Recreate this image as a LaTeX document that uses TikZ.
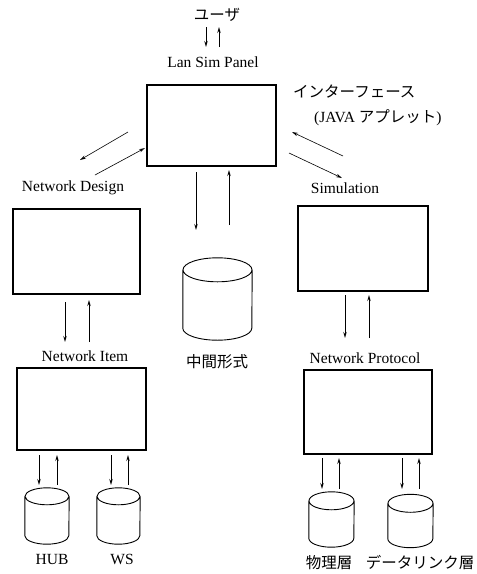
\documentclass[tikz,border=0pt]{standalone}
\usepackage{fontspec}
\setmainfont{Liberation Serif}
\newfontfamily\jp{Noto Sans CJK JP}
\usetikzlibrary{arrows.meta}
\newcommand\mycyl[3]{% name, half width, y radius of the ends
  \draw[cylline] ([yshift=-#3]#1.north) ellipse[x radius=#2,y radius=#3]
    ([yshift=-#3]#1.north west) -- ([yshift=#3]#1.south west)
    arc[start angle=180,end angle=360,x radius=#2,y radius=#3]
    -- ([yshift=-#3]#1.north east);}
\begin{document}
\begin{tikzpicture}[x=1pt,y=-1pt,
  box/.style={draw,line width=1.1pt,minimum width=#1,minimum height=82pt,inner sep=0pt},
  db/.style={inner sep=0pt,minimum width=44pt,minimum height=56pt},
  cylline/.style={line width=0.9pt},
  lbl/.style={font=\fontsize{15.5}{17}\selectfont,inner sep=0pt},
  jlbl/.style={font=\fontsize{15.5}{17}\selectfont\jp,inner sep=0pt},
  arr/.style={line width=0.6pt,-{Stealth[open,length=6pt,width=3.5pt]}}]
\useasboundingbox (0,0) rectangle (477,574);
% boxes
\node[box=129pt,minimum height=81pt] (top) at (211.5,125.5) {};
\node[box=127pt,minimum height=85pt] (nd) at (76.5,251.5) {};
\node[box=130pt,minimum height=85pt] (sim) at (363,248.5) {};
\node[box=129pt,minimum height=82pt] (ni) at (81.5,409) {};
\node[box=128pt,minimum height=84pt] (np) at (368,412) {};
% cylinders
\node[db,minimum width=69pt,minimum height=82pt] (mid) at (217.5,299) {};
\node[db] (hub) at (47,516) {};
\node[db,minimum width=43pt] (ws) at (118.5,516) {};
\node[db,minimum width=45pt,minimum height=55pt] (phys) at (331.5,519.5) {};
\node[db,minimum width=45pt,minimum height=53pt] (dl) at (410.5,521) {};
\mycyl{mid}{34.5pt}{12pt}
\mycyl{hub}{22pt}{8.5pt}
\mycyl{ws}{21.5pt}{8.5pt}
\mycyl{phys}{22.5pt}{9pt}
\mycyl{dl}{22.5pt}{9pt}
% labels
\node[jlbl] (user) at (217,15) {ユーザ};
\node[lbl] (lsp) at (213,62) {Lan Sim Panel};
\node[jlbl,anchor=west] (if1) at (293,92) {インターフェース};
\node[lbl,anchor=west] (if2) at (314,118) {(JAVA {\jp アプレット})};
\node[lbl] (ndl) at (73,188) {Network Design};
\node[lbl] (siml) at (345,188) {Simulation};
\node[lbl] (nil) at (85,356) {Network Item};
\node[lbl] (npl) at (365,358) {Network Protocol};
\node[jlbl] (midl) at (217,362) {中間形式};
\node[lbl] (hubl) at (52,559) {HUB};
\node[lbl] (wsl) at (122,559) {WS};
\node[jlbl] (physl) at (329,563) {物理層};
\node[jlbl] (dll) at (420,563) {データリンク層};
% arrows user <-> panel
\draw[arr] ([shift={(-11,12)}]user.center) -- ([shift={(-7,-15)}]lsp.center);
\draw[arr] ([shift={(6,-15)}]lsp.center) -- ([shift={(2,12)}]user.center);
% top <-> network design
\draw[arr] ([shift={(-83.5,6.5)}]top.center) -- ([shift={(3.5,-91.5)}]nd.center);
\draw[arr] ([shift={(18.5,-76.5)}]nd.center) -- ([shift={(-66.5,22.5)}]top.center);
% top <-> simulation
\draw[arr] ([shift={(-20,-92.5)}]sim.center) -- ([shift={(80.5,6.5)}]top.center);
\draw[arr] ([shift={(77.5,27.5)}]top.center) -- ([shift={(-21,-70.5)}]sim.center);
% top <-> mid
\draw[arr] ([shift={(-15.5,46.5)}]top.center) -- ([shift={(-21.5,-69)}]mid.center);
\draw[arr] ([shift={(11.5,-74)}]mid.center) -- ([shift={(17.5,44.5)}]top.center);
% nd <-> ni
\draw[arr] ([shift={(-11.5,50.5)}]nd.center) -- ([shift={(-16.5,-67)}]ni.center);
\draw[arr] ([shift={(7.5,-67)}]ni.center) -- ([shift={(12.5,48.5)}]nd.center);
% sim <-> np
\draw[arr] ([shift={(-18,46.5)}]sim.center) -- ([shift={(-23,-74)}]np.center);
\draw[arr] ([shift={(1,-74)}]np.center) -- ([shift={(6,46.5)}]sim.center);
% ni <-> hub, ws
\draw[arr] ([shift={(-42.5,46)}]ni.center) -- ([shift={(-8,-31)}]hub.center);
\draw[arr] ([shift={(10,-31)}]hub.center) -- ([shift={(-24.5,46)}]ni.center);
\draw[arr] ([shift={(29.5,46)}]ni.center) -- ([shift={(-7.5,-31)}]ws.center);
\draw[arr] ([shift={(9.5,-31)}]ws.center) -- ([shift={(46.5,46)}]ni.center);
% np <-> phys, dl
\draw[arr] ([shift={(-46,46)}]np.center) -- ([shift={(-9.5,-30.5)}]phys.center);
\draw[arr] ([shift={(7.5,-30.5)}]phys.center) -- ([shift={(-29,46)}]np.center);
\draw[arr] ([shift={(34,46)}]np.center) -- ([shift={(-8.5,-32)}]dl.center);
\draw[arr] ([shift={(8.5,-32)}]dl.center) -- ([shift={(51,46)}]np.center);
\end{tikzpicture}
\end{document}
